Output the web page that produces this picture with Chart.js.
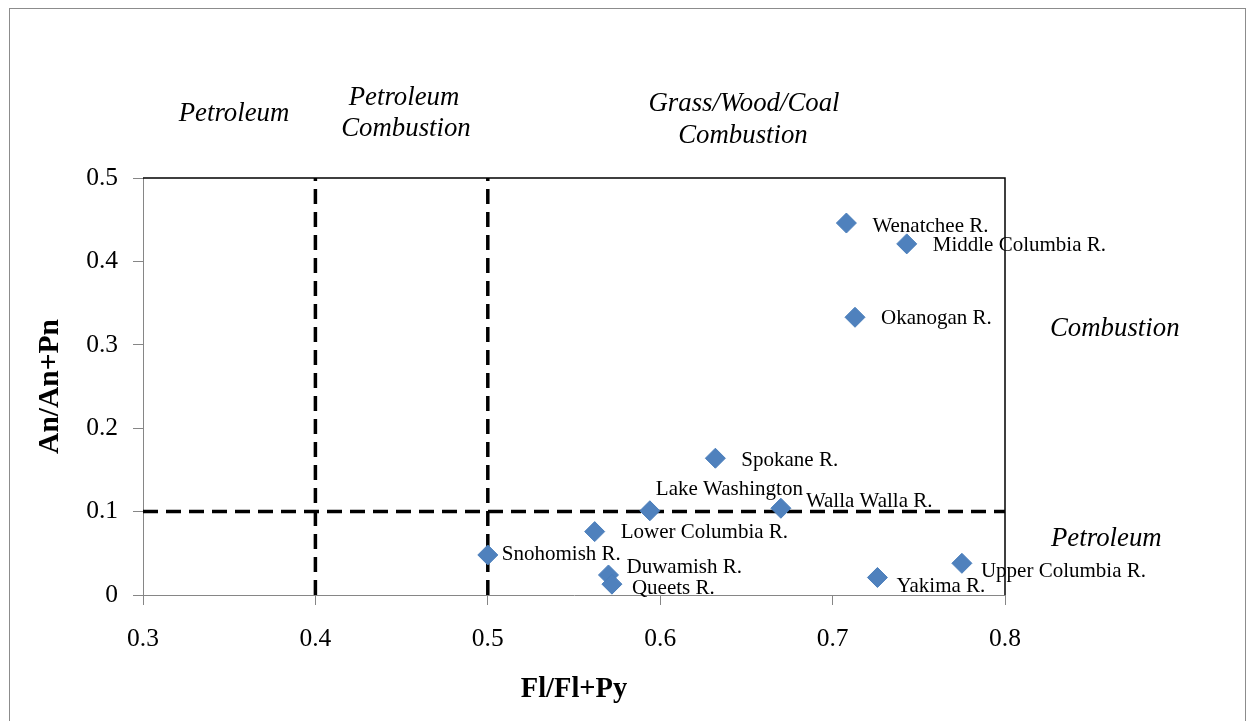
<!DOCTYPE html>
<html>
<head>
<meta charset="utf-8">
<script src="https://cdn.jsdelivr.net/npm/chart.js@4/dist/chart.umd.min.js"></script>
<style>
  html, body { margin: 0; padding: 0; background: #fff; }
  #wrap { position: relative; width: 1254px; height: 721px; overflow: hidden; }
</style>
</head>
<body>
<div id="wrap"><canvas id="c"></canvas></div>
<script>
// Sampling sites and their PAH diagnostic ratios
const sites = ['Wenatchee R.', 'Middle Columbia R.', 'Okanogan R.', 'Spokane R.', 'Lake Washington',
  'Walla Walla R.', 'Lower Columbia R.', 'Snohomish R.', 'Duwamish R.', 'Queets R.', 'Yakima R.', 'Upper Columbia R.'];
const flRatio = [0.708, 0.743, 0.713, 0.632, 0.594, 0.670, 0.562, 0.500, 0.570, 0.572, 0.726, 0.775];
const anRatio = [0.446, 0.421, 0.333, 0.164, 0.101, 0.104, 0.076, 0.048, 0.024, 0.013, 0.021, 0.038];

// Source-diagnostic thresholds
const flThresholds = [0.4, 0.5];
const anThresholds = [0.1];

// Axis ticks
const xTicks = [0.3, 0.4, 0.5, 0.6, 0.7, 0.8];
const xTickLabels = ['0.3', '0.4', '0.5', '0.6', '0.7', '0.8'];
const yTicks = [0, 0.1, 0.2, 0.3, 0.4, 0.5];
const yTickLabels = ['0', '0.1', '0.2', '0.3', '0.4', '0.5'];

// Label placement relative to each marker (px)
const labelOffsets = {
  'Wenatchee R.': [26, 3],
  'Middle Columbia R.': [26, 2],
  'Okanogan R.': [26, 1],
  'Spokane R.': [26, 2],
  'Lake Washington': [6, -21],
  'Walla Walla R.': [25, -7],
  'Lower Columbia R.': [26, 1],
  'Snohomish R.': [14, 0],
  'Duwamish R.': [18, -7],
  'Queets R.': [20, 4],
  'Yakima R.': [19, 9],
  'Upper Columbia R.': [19, 8]
};

const SERIF = '"Liberation Serif", "Times New Roman", serif';

const points = sites.map((s, i) => ({ x: flRatio[i], y: anRatio[i], name: s }));

const dashStyle = { borderColor: '#000', borderWidth: 3.5, borderDash: [15, 8], pointRadius: 0, fill: false, order: 1, type: 'line' };
const dividerSets = [
  ...flThresholds.map(v => Object.assign({ data: [{ x: v, y: yTicks[0] }, { x: v, y: yTicks[yTicks.length - 1] }] }, dashStyle)),
  ...anThresholds.map(v => Object.assign({ data: [{ x: xTicks[0], y: v }, { x: xTicks[xTicks.length - 1], y: v }] }, dashStyle))
];

const frame = {
  id: 'frame',
  beforeDraw(chart) {
    const ctx = chart.ctx;
    ctx.save();
    ctx.strokeStyle = '#8c8c8c';
    ctx.lineWidth = 1;
    ctx.strokeRect(9.5, 8.5, 1236, 800);
    ctx.restore();
  },
  beforeDatasetsDraw(chart) {
    const { ctx, chartArea: a } = chart;
    ctx.save();
    ctx.strokeStyle = '#000';
    ctx.lineWidth = 1.5;
    ctx.beginPath();
    ctx.moveTo(a.left, a.top);
    ctx.lineTo(a.right, a.top);
    ctx.lineTo(a.right, a.bottom);
    ctx.stroke();
    ctx.restore();
  }
};

const siteLabels = {
  id: 'siteLabels',
  afterDatasetsDraw(chart) {
    const ctx = chart.ctx;
    const meta = chart.getDatasetMeta(0);
    ctx.save();
    ctx.fillStyle = '#000';
    ctx.font = '21px ' + SERIF;
    ctx.textAlign = 'left';
    ctx.textBaseline = 'middle';
    meta.data.forEach((el, i) => {
      const off = labelOffsets[sites[i]] || [20, 0];
      ctx.fillText(sites[i], el.x + off[0], el.y + off[1]);
    });
    ctx.restore();
  }
};

const regionText = {
  id: 'regionText',
  afterDraw(chart) {
    const ctx = chart.ctx;
    ctx.save();
    ctx.fillStyle = '#000';
    ctx.font = 'italic 26.8px ' + SERIF;
    ctx.textBaseline = 'middle';
    ctx.textAlign = 'center';
    ctx.fillText('Petroleum', 234, 114);
    ctx.fillText('Petroleum', 404, 98);
    ctx.fillText('Combustion', 406, 129);
    ctx.fillText('Grass/Wood/Coal', 744, 104);
    ctx.fillText('Combustion', 743, 136);
    ctx.textAlign = 'left';
    ctx.fillText('Combustion', 1050, 329);
    ctx.fillText('Petroleum', 1051, 539);
    ctx.restore();
  }
};

new Chart(document.getElementById('c'), {
  type: 'scatter',
  data: {
    datasets: [
      {
        data: points,
        order: 0,
        pointStyle: 'rectRot',
        pointRadius: 10,
        pointHoverRadius: 10,
        backgroundColor: '#4F81BD',
        borderColor: '#4A7EBB',
        borderWidth: 1
      },
      ...dividerSets
    ]
  },
  options: {
    responsive: true,
    maintainAspectRatio: false,
    animation: false,
    events: [],
    layout: { padding: { left: 0, top: 178, right: 249, bottom: 0 } },
    plugins: { legend: { display: false }, tooltip: { enabled: false } },
    scales: {
      x: {
        type: 'linear',
        min: xTicks[0],
        max: xTicks[xTicks.length - 1],
        afterBuildTicks(scale) { scale.ticks = xTicks.map(v => ({ value: v })); },
        afterFit(scale) { scale.height = 126; },
        ticks: {
          color: '#000',
          font: { family: SERIF, size: 25.5 },
          padding: 19,
          maxRotation: 0,
          callback: (v, i) => xTickLabels[i]
        },
        grid: { drawOnChartArea: false, drawTicks: true, tickLength: 10, color: '#868686', lineWidth: 1 },
        border: { display: true, color: '#868686', width: 1 },
        title: {
          display: true,
          text: 'Fl/Fl+Py',
          color: '#000',
          font: { family: SERIF, size: 28.5, weight: 'bold' },
          padding: { top: 0, bottom: 14 }
        }
      },
      y: {
        type: 'linear',
        min: yTicks[0],
        max: yTicks[yTicks.length - 1],
        afterBuildTicks(scale) { scale.ticks = yTicks.map(v => ({ value: v })); },
        afterFit(scale) { scale.width = 143; },
        ticks: {
          color: '#000',
          font: { family: SERIF, size: 25.5 },
          padding: 15,
          callback: (v, i) => yTickLabels[i]
        },
        grid: { drawOnChartArea: false, drawTicks: true, tickLength: 10, color: '#868686', lineWidth: 1 },
        border: { display: true, color: '#868686', width: 1 },
        title: {
          display: true,
          text: 'An/An+Pn',
          color: '#000',
          font: { family: SERIF, size: 29.5, weight: 'bold' },
          padding: { top: 33, bottom: 0 }
        }
      }
    }
  },
  plugins: [frame, siteLabels, regionText]
});
</script>
</body>
</html>
